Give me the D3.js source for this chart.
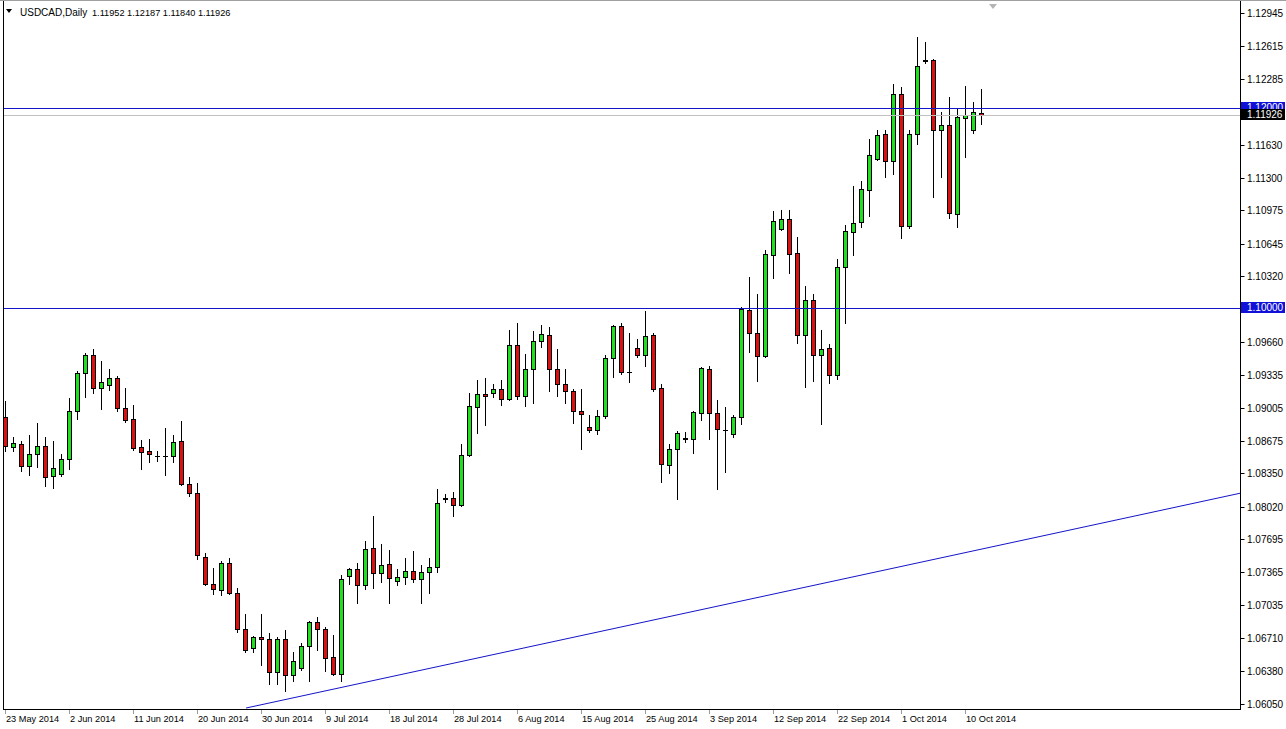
<!DOCTYPE html>
<html><head><meta charset="utf-8">
<script src="https://cdn.jsdelivr.net/npm/d3@7"></script>
<style>
html,body{margin:0;padding:0;background:#fff;overflow:hidden}
svg{display:block}
text{font-family:"Liberation Sans",Arial,sans-serif;font-size:10px}
</style>
</head><body>
<svg id="c" width="1286" height="729"></svg>
<script>
const symbolTitle = "USDCAD,Daily";
const startDay = new Date(2014, 4, 23); // first visible daily bar (broker includes Sunday bars)

const opens = [1.08912,1.08613,1.08643,1.08423,1.08543,1.08623,1.08323,1.08343,1.08493,1.08972,
1.09351,1.09531,1.09202,1.09232,1.09301,1.09002,1.08892,1.08613,1.08573,1.08523,
1.08523,1.08523,1.08673,1.08244,1.08154,1.07515,1.07246,1.07186,1.07455,1.07156,
1.06796,1.06607,1.06717,1.06697,1.06367,1.06697,1.06337,1.06407,1.06627,1.06866,
1.06796,1.06517,1.06347,1.07325,1.07395,1.07236,1.07605,1.07355,1.07445,1.07275,
1.07315,1.07375,1.07295,1.07365,1.07415,1.08104,1.08104,1.08034,1.08533,1.09012,
1.09142,1.09152,1.09192,1.09092,1.09631,1.09122,1.09391,1.09671,1.09731,1.09391,
1.09242,1.09172,1.08972,1.08812,1.08782,1.08922,1.09501,1.09820,1.09365,1.09601,
1.09531,1.09731,1.09202,1.08433,1.08593,1.08693,1.08693,1.08952,1.09391,1.08952,
1.08787,1.08743,1.08912,1.09980,1.09750,1.09521,1.10529,1.10788,1.10888,1.10549,
1.09731,1.10080,1.09531,1.09601,1.09331,1.10409,1.10758,1.10858,1.11178,1.11487,
1.11737,1.11467,1.12136,1.10818,1.11737,1.12475,1.12475,1.11776,1.11826,1.10938,
1.11896,1.11776,1.11952];
const highs = [1.09072,1.08713,1.08673,1.08733,1.08852,1.08713,1.08673,1.08543,1.09102,1.09371,
1.09551,1.09591,1.09471,1.09391,1.09321,1.09202,1.09032,1.08683,1.08693,1.08573,
1.08802,1.08733,1.08872,1.08313,1.08253,1.07555,1.07405,1.07475,1.07505,1.07206,
1.06946,1.06727,1.06946,1.06756,1.06717,1.06786,1.06567,1.06657,1.06876,1.06916,
1.06816,1.06737,1.07335,1.07405,1.07455,1.07675,1.07924,1.07645,1.07585,1.07395,
1.07505,1.07575,1.07435,1.07505,1.08194,1.08144,1.08164,1.08643,1.09152,1.09281,
1.09301,1.09242,1.09281,1.09780,1.09850,1.09541,1.09770,1.09830,1.09810,1.09591,
1.09391,1.09192,1.09192,1.08932,1.08982,1.09531,1.09830,1.09850,1.09750,1.09691,
1.09970,1.09750,1.09242,1.08643,1.08772,1.08762,1.08972,1.09411,1.09421,1.09082,
1.09012,1.08932,1.10010,1.10309,1.10140,1.10579,1.10968,1.10978,1.10978,1.10709,
1.10220,1.10140,1.09780,1.09641,1.10489,1.10828,1.11218,1.11267,1.11687,1.11776,
1.11776,1.12236,1.12206,1.11776,1.12705,1.12655,1.12485,1.11956,1.12106,1.11996,
1.12216,1.12056,1.12187];
const lows = [1.08573,1.08573,1.08373,1.08333,1.08413,1.08224,1.08204,1.08323,1.08393,1.08892,
1.09112,1.09152,1.08992,1.09182,1.08972,1.08862,1.08583,1.08393,1.08463,1.08473,
1.08333,1.08463,1.08234,1.08124,1.07495,1.07236,1.07146,1.07136,1.07146,1.06766,
1.06567,1.06567,1.06437,1.06248,1.06248,1.06178,1.06277,1.06387,1.06277,1.06587,
1.06377,1.06337,1.06277,1.07246,1.07056,1.07196,1.07206,1.07265,1.07056,1.07236,
1.07246,1.07265,1.07056,1.07156,1.07365,1.08064,1.07924,1.08024,1.08523,1.08752,
1.08832,1.09112,1.09032,1.09082,1.09092,1.09022,1.09052,1.09611,1.09172,1.09122,
1.09052,1.08852,1.08593,1.08762,1.08743,1.08902,1.09311,1.09341,1.09261,1.09511,
1.09421,1.09172,1.08263,1.08353,1.08094,1.08663,1.08553,1.08882,1.08693,1.08194,
1.08363,1.08713,1.08842,1.09561,1.09271,1.09511,1.10299,1.10778,1.10349,1.09651,
1.09212,1.09271,1.08842,1.09251,1.09291,1.09850,1.10529,1.10808,1.10918,1.11477,
1.11307,1.11337,1.10699,1.10798,1.11637,1.12445,1.11108,1.11307,1.10898,1.10808,
1.11507,1.11747,1.11840];
const closes = [1.08623,1.08653,1.08423,1.08543,1.08623,1.08313,1.08403,1.08493,1.08972,1.09351,
1.09531,1.09202,1.09261,1.09301,1.09002,1.08882,1.08603,1.08563,1.08543,1.08520,
1.08520,1.08663,1.08244,1.08154,1.07535,1.07246,1.07196,1.07455,1.07156,1.06796,
1.06587,1.06717,1.06697,1.06367,1.06697,1.06337,1.06477,1.06627,1.06866,1.06796,
1.06507,1.06347,1.07295,1.07395,1.07236,1.07595,1.07355,1.07435,1.07305,1.07315,
1.07375,1.07295,1.07365,1.07415,1.08054,1.08100,1.08034,1.08533,1.09022,1.09142,
1.09122,1.09192,1.09092,1.09631,1.09122,1.09391,1.09671,1.09741,1.09391,1.09242,
1.09172,1.08972,1.08942,1.08782,1.08922,1.09501,1.09820,1.09361,1.09361,1.09531,
1.09721,1.09192,1.08443,1.08593,1.08752,1.08703,1.08962,1.09401,1.08952,1.08792,
1.08782,1.08912,1.09990,1.09750,1.09521,1.10539,1.10868,1.10888,1.10539,1.09731,
1.10080,1.09531,1.09591,1.09331,1.10409,1.10768,1.10848,1.11188,1.11527,1.11727,
1.11467,1.12136,1.10818,1.11737,1.12415,1.12470,1.11776,1.11826,1.10948,1.11906,
1.11926,1.11956,1.11926];

const priceTicks = [1.12945,1.12615,1.12285,1.11630,1.11300,1.10975,1.10645,1.10320,
1.09660,1.09335,1.09005,1.08675,1.08350,1.08020,1.07695,1.07365,1.07035,1.06710,1.06380,1.06050];
const levelLines = [1.12000, 1.10000];
const bidPrice = 1.11926;
const trendAnchors = [{bar: 30, price: 1.0601}, {bar: 122, price: 1.07596}];
const dateLabelStep = 8;
const visibleBars = 155;

// calendar of bars (Sunday sessions included, Saturdays skipped)
const dates = [];
for (let d = new Date(startDay); dates.length < opens.length; d.setDate(d.getDate() + 1)) {
  if (d.getDay() !== 6) dates.push(new Date(d));
}
const bars = opens.map((o, i) => ({i, date: dates[i], o, h: highs[i], l: lows[i], c: closes[i]}));

const W = 1286, H = 729;
const plotL = 3, plotR = 1240, plotT = 0, plotB = 709;
const svg = d3.select("#c");
svg.append("rect").attr("width", W).attr("height", H).attr("fill", "#fff");

const x = d3.scaleLinear().domain([-0.7, visibleBars - 0.7]).range([0, plotR]);
const y = d3.scaleLinear().domain([1.06050, 1.12945]).range([704, 13]);

svg.append("defs").append("clipPath").attr("id", "plot")
  .append("rect").attr("x", plotL + 1).attr("y", plotT + 1).attr("width", plotR - plotL - 1).attr("height", plotB - plotT - 1);

const g = svg.append("g").attr("clip-path", "url(#plot)");
const cx = d => Math.floor(x(d.i)) + 0.5;

// wicks
g.selectAll("line.wick").data(bars).join("line").attr("class", "wick")
  .attr("x1", cx).attr("x2", cx)
  .attr("y1", d => Math.round(y(d.h))).attr("y2", d => Math.round(y(d.l)) + 1)
  .attr("stroke", "#000").attr("stroke-width", 1);

// bodies
const isDoji = d => Math.abs(Math.round(y(d.o)) - Math.round(y(d.c))) < 1;
g.selectAll("rect.body").data(bars.filter(d => !isDoji(d))).join("rect").attr("class", "body")
  .attr("x", d => cx(d) - 2).attr("width", 4)
  .attr("y", d => Math.round(y(Math.max(d.o, d.c))) + 0.5)
  .attr("height", d => Math.max(1, Math.round(y(Math.min(d.o, d.c))) - Math.round(y(Math.max(d.o, d.c)))))
  .attr("fill", d => d.c >= d.o ? "#1fe01f" : "#dc1010")
  .attr("stroke", "#000").attr("stroke-width", 1);
g.selectAll("line.doji").data(bars.filter(isDoji)).join("line").attr("class", "doji")
  .attr("x1", d => cx(d) - 2.5).attr("x2", d => cx(d) + 2.5)
  .attr("y1", d => Math.round(y(d.c)) + 0.5).attr("y2", d => Math.round(y(d.c)) + 0.5)
  .attr("stroke", "#000").attr("stroke-width", 1);

// bid line
g.append("line").attr("x1", plotL).attr("x2", plotR)
  .attr("y1", Math.round(y(bidPrice)) + 0.5).attr("y2", Math.round(y(bidPrice)) + 0.5)
  .attr("stroke", "#c0c0c0");

// horizontal levels
g.selectAll("line.level").data(levelLines).join("line").attr("class", "level")
  .attr("x1", plotL).attr("x2", plotR)
  .attr("y1", d => Math.round(y(d)) + 0.5).attr("y2", d => Math.round(y(d)) + 0.5)
  .attr("stroke", "#1414c8").attr("stroke-width", 1);

// trend line (ray to the right)
const [a0, a1] = trendAnchors;
const slope = (a1.price - a0.price) / (a1.bar - a0.bar);
const endBar = visibleBars;
g.append("line")
  .attr("x1", x(a0.bar) + 0.5).attr("y1", y(a0.price))
  .attr("x2", x(endBar)).attr("y2", y(a0.price + slope * (endBar - a0.bar)))
  .attr("stroke", "#1414c8").attr("stroke-width", 1);

// frame
svg.append("line").attr("x1", 0).attr("x2", W).attr("y1", 0.5).attr("y2", 0.5).attr("stroke", "#a0a0a0");
svg.append("line").attr("x1", plotL + 0.5).attr("x2", plotL + 0.5).attr("y1", 1).attr("y2", plotB + 1).attr("stroke", "#000");
svg.append("line").attr("x1", plotR + 0.5).attr("x2", plotR + 0.5).attr("y1", 1).attr("y2", plotB + 1).attr("stroke", "#000");
svg.append("line").attr("x1", plotL).attr("x2", plotR + 1).attr("y1", plotB + 0.5).attr("y2", plotB + 0.5).attr("stroke", "#000");

// chart shift marker
svg.append("path").attr("d", "M989,4 L997,4 L993,9 Z").attr("fill", "#b4b4b4");

// price axis
const yAxis = svg.append("g").attr("transform", `translate(${plotR + 0.5},0)`);
yAxis.selectAll("line.tk").data(priceTicks).join("line").attr("class", "tk")
  .attr("x1", 0).attr("x2", 4)
  .attr("y1", d => Math.round(y(d)) + 0.5).attr("y2", d => Math.round(y(d)) + 0.5)
  .attr("stroke", "#000");
yAxis.selectAll("text.tl").data(priceTicks).join("text").attr("class", "tl")
  .attr("x", 6.5).attr("y", d => Math.round(y(d)) + 4)
  .attr("fill", "#000").text(d => d.toFixed(5));

// level & bid labels
const tags = levelLines.map(v => ({v, bg: "#1010d8"})).concat([{v: bidPrice, bg: "#000"}]);
const tg = svg.append("g").selectAll("g").data(tags).join("g");
tg.append("rect").attr("x", plotR + 1).attr("width", 44)
  .attr("y", d => Math.round(y(d.v)) - 6).attr("height", 11).attr("fill", d => d.bg);
tg.append("text").attr("x", plotR + 7).attr("y", d => Math.round(y(d.v)) + 3)
  .attr("fill", "#fff").text(d => d.v.toFixed(5));

// time axis
const fmt = d3.timeFormat("%-d %b %Y");
const labelBars = bars.filter(d => d.i % dateLabelStep === 0);
const xAxis = svg.append("g");
xAxis.selectAll("line").data(labelBars).join("line")
  .attr("x1", cx).attr("x2", cx).attr("y1", plotB + 1).attr("y2", plotB + 5)
  .attr("stroke", "#9a9a9a");
xAxis.selectAll("text").data(labelBars).join("text")
  .attr("x", d => cx(d) + 0.5).attr("y", 722)
  .style("font-size", "9.2px")
  .attr("fill", "#000").text(d => fmt(d.date));

// header
const last = bars[bars.length - 1];
svg.append("path").attr("d", "M6,9 L12,9 L9,13 Z").attr("fill", "#000");
svg.append("text").attr("x", 20).attr("y", 16).attr("fill", "#000").text(symbolTitle);
svg.append("text").attr("x", 92).attr("y", 16).attr("fill", "#000").style("font-size", "9.2px")
  .text([last.o, last.h, last.l, last.c].map(v => v.toFixed(5)).join(" "));
</script>
</body></html>
